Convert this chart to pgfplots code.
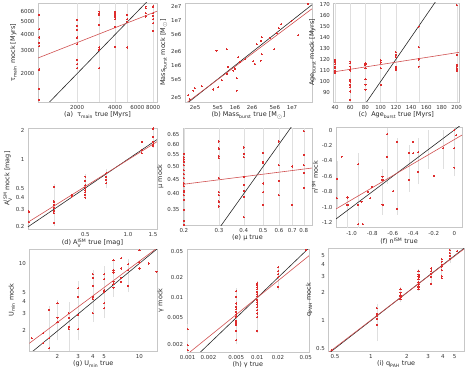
\documentclass[border=0pt]{standalone}
\usepackage{fontspec}
\setmainfont{DejaVu Sans}
\usepackage{pgfplots}
\pgfplotsset{compat=1.18}
\definecolor{fitred}{RGB}{208,80,80}
\definecolor{ptred}{RGB}{222,45,45}
\pgfplotsset{
 panel/.style={scale only axis, anchor=south west, axis line style={black!22},
  major tick length=0pt, minor tick length=0pt, tick style={draw=none},
  tick label style={font=\fontsize{5.5}{6}\selectfont, text=black!80},
  label style={font=\fontsize{6.5}{7.5}\selectfont, text=black!85},
  xlabel style={yshift=4.5pt}, ylabel style={yshift=-3pt},
  /pgf/number format/assume math mode=true, clip=true},
 pts/.style={color=ptred, only marks, mark=*, mark size=0.6pt, mark options={fill=ptred, draw=ptred, line width=0pt}},
 err/.style={draw=gray!25, line width=0.35pt, forget plot},
 one/.style={draw=black!85, line width=0.6pt, no marks},
 fit/.style={draw=fitred, line width=0.6pt, no marks},
}
\newcommand{\vl}[3]{\addplot[err] coordinates {(#1,#2) (#1,#3)};}
\begin{document}
\begin{tikzpicture}
\useasboundingbox (0,0) rectangle (474bp,369bp);
% (a)
\begin{axis}[panel, at={(38bp,267bp)}, width=119bp, height=99bp, xmode=log, ymode=log,
 xmin=980, xmax=8600, ymin=1210, ymax=7000,
 xtick={2000,4000,6000,8000}, xticklabels={2000,4000,6000,8000},
 ytick={2000,3000,4000,5000,6000}, yticklabels={2000,3000,4000,5000,6000},
 xlabel={(a)\ \ τ\textsubscript{main} true [Myrs]}, ylabel={τ\textsubscript{main} mock [Myrs]}]
\vl{2000}{1210}{7000}\vl{3000}{1210}{7000}\vl{4000}{1210}{7000}\vl{5000}{1210}{7000}\vl{8000}{1210}{7000}
\addplot[pts] coordinates {
(1000,5660)(1000,4400)(1000,3800)(1000,3450)(1000,3250)(1000,2150)(1000,1530)(1000,1260)
(2000,5180)(2000,4660)(2000,4340)(2000,3790)(2000,3380)(2000,2560)(2000,2370)(2000,2210)
(3000,6000)(3000,5830)(3000,5660)(3000,4740)(3000,3180)(3000,3050)(3000,2210)
(4000,6000)(4000,5830)(4000,5660)(4000,5500)(4000,5250)(4000,4600)(4000,3230)
(5000,5660)(5000,5250)(5000,5030)(5000,3180)
(7000,6560)(7000,6370)(7000,5830)(7000,5500)
(8000,6630)(8000,6490)(8000,5830)(8000,5560)(8000,5250)(8000,4890)(8000,4270)};
\addplot[one] coordinates {(980,980)(8600,8600)};
\addplot[fit] coordinates {(980,2640)(8600,6050)};
\end{axis}
% (b)
\begin{axis}[panel, at={(185bp,267bp)}, width=127bp, height=99bp, xmode=log, ymode=log,
 xmin=1.33e5, xmax=2.24e7, ymin=1.55e5, ymax=2.45e7,
 xtick={2e5,5e5,1e6,2e6,5e6,1e7}, xticklabels={2e5,5e5,1e6,2e6,5e6,1e7},
 ytick={2e5,5e5,1e6,2e6,5e6,1e7,2e7}, yticklabels={2e5,5e5,1e6,2e6,5e6,1e7,2e7},
 xlabel={(b) Mass\textsubscript{burst} true [M$_\odot$]}, ylabel={Mass\textsubscript{burst} mock [M$_\odot$]}]
\addplot[pts] coordinates {
(1.88e7,2.33e7)(1.29e7,4.76e6)(9.86e6,9.9e6)(6.41e6,8.2e6)(5.9e6,6.7e6)(5.38e6,5.19e6)
(4.11e6,4.02e6)(4.9e6,2.29e6)(2.94e6,4.22e6)(2.86e6,3.56e6)(2.4e6,2.95e6)(2.94e6,1.77e6)
(2.82e6,1.28e6)(2.24e6,1.08e6)(2.1e6,1.26e6)(1.5e6,1.37e6)(1.22e6,1.22e6)(1.14e6,1.52e6)
(1.0e6,8.6e5)(9.35e5,7.7e5)(7.15e5,2.29e6)(4.76e5,2.14e6)(7.65e5,9.4e5)(7.15e5,6.5e5)
(5.84e5,4.77e5)(1.07e6,5.19e5)(1.07e6,2.76e5)(5.1e5,3.27e5)(4.17e5,2.95e5)(2.6e5,3.5e5)
(1.99e5,3.11e5)(1.86e5,2.76e5)(1.62e5,1.77e5)(1.52e5,2.21e5)};
\addplot[one] coordinates {(1.33e5,1.33e5)(2.24e7,2.24e7)};
\addplot[fit] coordinates {(1.33e5,1.4e5)(2.24e7,1.82e7)};
\end{axis}
% (c)
\begin{axis}[panel, at={(333.5bp,267bp)}, width=125.5bp, height=99bp,
 xmin=38, xmax=203, ymin=81.5, ymax=171,
 xtick={40,60,80,100,120,140,160,180,200}, xticklabels={40,60,80,100,120,140,160,180,200},
 ytick={90,100,110,120,130,140,150,160,170}, yticklabels={90,100,110,120,130,140,150,160,170},
 xlabel={(c)\ \ Age\textsubscript{burst} true [Myrs]}, ylabel={Age\textsubscript{burst} mock [Myrs]}]
\vl{40}{81.5}{171}\vl{60}{81.5}{171}\vl{80}{81.5}{171}\vl{100}{81.5}{171}\vl{120}{81.5}{171}\vl{150}{81.5}{171}\vl{200}{81.5}{171}
\addplot[pts] coordinates {
(40,119.5)(40,118)(40,115.6)(40,113.5)(40,112)(40,109.6)(40,108)
(60,118)(60,116.5)(60,113.5)(60,111)(60,110)(60,101.5)(60,100)(60,97)(60,95)(60,91)(60,83.4)
(80,116.5)(80,115)(80,112)(80,102)(80,97)(80,92.5)
(100,119)(100,117)(100,112)(100,97)
(120,126.4)(120,124)(120,122)(120,113.5)(120,112)(120,110.5)
(150,149.6)(150,131)(150,120)(150,113.5)
(200,169)(200,124)(200,115)(200,113.5)(200,111.4)(200,109.6)};
\addplot[one] coordinates {(38,38)(203,203)};
\addplot[fit] coordinates {(38,108.7)(203,126.4)};
\end{axis}
% (d)
\begin{axis}[panel, at={(28bp,140bp)}, width=129bp, height=101bp, xmode=log, ymode=log,
 xmin=0.197, xmax=1.6, ymin=0.187, ymax=2.11,
 xtick={0.5,1,1.5}, xticklabels={0.5,1.0,1.5},
 ytick={0.2,0.3,0.4,0.5,1,2}, yticklabels={0.2,0.3,0.4,0.5,1,2},
 xlabel={(d) A$_{\mathrm{V}}^{\mathrm{ISM}}$ true [mag]}, ylabel={A$_{\mathrm{V}}^{\mathrm{ISM}}$ mock [mag]}]
\vl{0.3}{0.2}{0.55}\vl{0.5}{0.38}{0.7}\vl{0.7}{0.5}{0.78}\vl{1.5}{1.3}{2.11}
\addplot[pts] coordinates {
(0.2,0.284)(0.2,0.22)
(0.3,0.516)(0.3,0.366)(0.3,0.355)(0.3,0.333)(0.3,0.312)(0.3,0.289)(0.3,0.273)(0.3,0.218)
(0.4,0.423)(0.4,0.406)
(0.5,0.656)(0.5,0.592)(0.5,0.537)(0.5,0.504)(0.5,0.476)(0.5,0.451)(0.5,0.423)(0.5,0.397)
(0.7,0.71)(0.7,0.656)(0.7,0.606)(0.7,0.559)
(1.25,1.51)(1.25,1.24)(1.25,1.15)
(1.5,2.08)(1.5,1.71)(1.5,1.51)(1.5,1.42)(1.5,1.38)};
\addplot[one] coordinates {(0.197,0.197)(1.6,1.6)};
\addplot[fit] coordinates {(0.197,0.22)(1.6,1.52)};
\end{axis}
% (e)
\begin{axis}[panel, at={(183bp,144bp)}, width=129bp, height=97bp, xmode=log, ymode=log,
 xmin=0.198, xmax=0.88, ymin=0.309, ymax=0.687,
 xtick={0.2,0.3,0.4,0.5,0.6,0.7,0.8}, xticklabels={0.2,0.3,0.4,0.5,0.6,0.7,0.8},
 ytick={0.35,0.40,0.45,0.50,0.55,0.60,0.65}, yticklabels={0.35,0.40,0.45,0.50,0.55,0.60,0.65},
 xlabel={(e) μ true}, ylabel={μ mock}]
\vl{0.2}{0.309}{0.687}\vl{0.3}{0.309}{0.687}\vl{0.4}{0.309}{0.687}\vl{0.5}{0.309}{0.687}\vl{0.6}{0.309}{0.687}\vl{0.7}{0.309}{0.687}\vl{0.8}{0.309}{0.687}
\addplot[pts] coordinates {
(0.2,0.555)(0.2,0.54)(0.2,0.53)(0.2,0.52)(0.2,0.505)(0.2,0.485)(0.2,0.47)(0.2,0.455)(0.2,0.435)
(0.2,0.425)(0.2,0.41)(0.2,0.405)(0.2,0.395)(0.2,0.38)(0.2,0.35)(0.2,0.32)(0.2,0.31)
(0.3,0.615)(0.3,0.58)(0.3,0.545)(0.3,0.535)(0.3,0.455)(0.3,0.405)(0.3,0.395)(0.3,0.375)(0.3,0.36)
(0.4,0.585)(0.4,0.555)(0.4,0.54)(0.4,0.46)(0.4,0.43)(0.4,0.41)(0.4,0.39)(0.4,0.33)
(0.5,0.56)(0.5,0.52)(0.5,0.515)(0.5,0.435)(0.5,0.405)(0.5,0.365)
(0.6,0.615)(0.6,0.505)(0.6,0.445)(0.6,0.395)
(0.7,0.5)(0.7,0.365)
(0.8,0.67)(0.8,0.55)(0.8,0.505)(0.8,0.475)(0.8,0.42)};
\addplot[one] coordinates {(0.198,0.198)(0.88,0.88)};
\addplot[fit] coordinates {(0.198,0.432)(0.88,0.494)};
\end{axis}
% (f)
\begin{axis}[panel, at={(336bp,141.3bp)}, width=126bp, height=101bp,
 xmin=-1.152, xmax=0.075, ymin=-1.265, ymax=0.043,
 xtick={-1,-0.8,-0.6,-0.4,-0.2,0}, xticklabels={-1.0,-0.8,-0.6,-0.4,-0.2,0},
 ytick={-1.2,-1,-0.8,-0.6,-0.4,-0.2,0}, yticklabels={-1.2,-1.0,-0.8,-0.6,-0.4,-0.2,0},
 xlabel={(f) n$^{\mathrm{ISM}}$ true}, ylabel={n$^{\mathrm{ISM}}$ mock}]
\vl{-1.145}{-1.0}{-0.4}\vl{-1.04}{-1.265}{-0.85}\vl{-0.936}{-1.265}{-0.3}\vl{-0.7}{-1.1}{-0.5}
\vl{-0.654}{-0.7}{0.03}\vl{-0.557}{-1.1}{-0.1}\vl{-0.44}{-0.8}{-0.2}\vl{-0.353}{-0.7}{-0.1}
\vl{-0.25}{-0.5}{0}\vl{-0.11}{-0.5}{0}\vl{0}{-0.6}{0.04}
\addplot[pts] coordinates {
(-1.145,-0.634)(-1.145,-0.884)(-1.097,-0.345)(-1.04,-0.875)(-1.04,-0.97)(-0.936,-0.444)
(-0.936,-0.97)(-0.936,-1.22)(-0.903,-0.927)(-0.89,-1.22)(-0.839,-0.798)(-0.82,-0.884)
(-0.80,-0.733)(-0.699,-0.604)(-0.699,-0.97)(-0.699,-0.647)(-0.654,-0.052)(-0.654,-0.345)
(-0.596,-0.79)(-0.557,-0.151)(-0.557,-1.022)(-0.44,-0.293)(-0.44,-0.647)(-0.402,-0.302)
(-0.402,-0.151)(-0.353,-0.289)(-0.353,-0.539)(-0.2,-0.591)(-0.11,-0.237)(0,0)(0,-0.237)
(0,-0.488)(0.02,-0.065)};
\addplot[one] coordinates {(-1.152,-1.152)(0.075,0.075)};
\addplot[fit] coordinates {(-1.152,-1.022)(0.075,-0.065)};
\end{axis}
% (g)
\begin{axis}[panel, at={(29.3bp,18bp)}, width=128bp, height=102bp, xmode=log, ymode=log,
 xmin=1.15, xmax=14.2, ymin=1.24, ymax=14.1,
 xtick={2,3,4,5,10}, xticklabels={2,3,4,5,10},
 ytick={2,3,4,5,10}, yticklabels={2,3,4,5,10},
 xlabel={(g) U$_{\mathrm{min}}$ true}, ylabel={U$_{\mathrm{min}}$ mock}]
\vl{1.7}{1.24}{3.6}\vl{2}{1.6}{4.2}\vl{2.5}{1.24}{4.0}\vl{3}{1.6}{6.5}\vl{4}{2.5}{8.5}\vl{5}{2.7}{9.5}\vl{6}{4.5}{11}\vl{8}{5}{11}
\addplot[pts] coordinates {
(1.21,1.68)(1.51,1.89)(1.51,1.49)(1.7,3.3)(1.7,1.68)(1.7,1.32)
(2,3.86)(2,2.74)(2,2.46)(2.5,3.04)(2.5,2.74)(2.5,2.21)(2.5,2.08)
(3,5.52)(3,4.52)(3,2.93)(3,2.09)
(4,7.7)(4,7.1)(4,5.87)(4,4.52)(4,4.28)(4,3.04)
(5,7.7)(5,6.89)(5,5.3)(5,5.1)(5,3.86)(5,3.43)
(6,10.8)(6,8.53)(6,8.07)(6,6.46)(6,6.07)(6,5.6)
(7,11.3)(7,8.87)(7,7.1)(7,6.46)
(8,9.77)(8,8.53)(8,5.87)
(10,13.7)(10,10.2)(10,8.87)(12,10)(14,8.19)};
\addplot[one] coordinates {(1.15,1.15)(14.2,14.2)};
\addplot[fit] coordinates {(1.15,1.49)(14.2,14.5)};
\end{axis}
% (h)
\begin{axis}[panel, at={(186.7bp,17.3bp)}, width=122.3bp, height=102.7bp, xmode=log, ymode=log,
 xmin=0.00097, xmax=0.0557, ymin=0.00155, ymax=0.0536,
 xtick={0.001,0.002,0.005,0.01,0.02,0.05}, xticklabels={0.001,0.002,0.005,0.01,0.02,0.05},
 ytick={0.002,0.005,0.01,0.02,0.05}, yticklabels={0.002,0.005,0.01,0.02,0.05},
 xlabel={(h) γ true}, ylabel={γ mock}]
\vl{0.001}{0.00155}{0.004}\vl{0.005}{0.002}{0.014}\vl{0.01}{0.003}{0.018}\vl{0.02}{0.013}{0.03}
\addplot[pts] coordinates {
(0.001,0.00335)(0.001,0.00195)(0.001,0.00164)
(0.005,0.01256)(0.005,0.0103)(0.005,0.0082)(0.005,0.0073)(0.005,0.0067)(0.005,0.00615)
(0.005,0.0056)(0.005,0.00518)(0.005,0.0045)(0.005,0.0042)(0.005,0.0039)(0.005,0.0032)(0.005,0.0023)
(0.01,0.0164)(0.01,0.0155)(0.01,0.0143)(0.01,0.0133)(0.01,0.0123)(0.01,0.0113)(0.01,0.0105)
(0.01,0.0093)(0.01,0.0086)(0.01,0.0079)(0.01,0.0072)(0.01,0.0065)(0.01,0.0058)(0.01,0.0051)(0.01,0.0032)
(0.02,0.0285)(0.02,0.025)(0.02,0.0225)(0.02,0.0203)(0.02,0.0146)
(0.05,0.052)};
\addplot[one] coordinates {(0.00097,0.00097)(0.0557,0.0557)};
\addplot[fit] coordinates {(0.00097,0.0014)(0.0557,0.0425)};
\end{axis}
% (i)
\begin{axis}[panel, at={(328.3bp,18bp)}, width=135.7bp, height=102.7bp, xmode=log, ymode=log,
 xmin=0.44, xmax=6.0, ymin=0.47, ymax=6.0,
 xtick={0.5,1,2,3,4,5}, xticklabels={0.5,1,2,3,4,5},
 ytick={0.5,1,2,3,4,5}, yticklabels={0.5,1,2,3,4,5},
 xlabel={(i) q$_{\mathrm{PAH}}$ true}, ylabel={q$_{\mathrm{PAH}}$ mock}]
\vl{1.12}{0.6}{1.5}\vl{1.77}{1.6}{2.3}\vl{2.5}{2.1}{3.6}\vl{3.19}{2.4}{3.8}\vl{3.9}{2.8}{4.7}\vl{4.58}{4.2}{5.9}
\addplot[pts] coordinates {
(0.47,0.48)
(1.12,1.36)(1.12,1.18)(1.12,1.11)(1.12,1.04)(1.12,0.9)
(1.77,2.17)(1.77,2.0)(1.77,1.87)(1.77,1.8)(1.77,1.69)
(2.5,3.4)(2.5,3.1)(2.5,2.95)(2.5,2.8)(2.5,2.6)(2.5,2.45)(2.5,2.3)(2.5,2.17)
(3.19,3.63)(3.19,3.4)(3.19,3.2)(3.19,2.95)(3.19,2.5)
(3.9,4.58)(3.9,4.3)(3.9,4.0)(3.9,3.8)(3.9,3.5)(3.9,3.0)(3.9,2.85)
(4.58,5.73)(4.58,5.3)(4.58,5.0)(4.58,4.6)(5.26,5.6)};
\addplot[one] coordinates {(0.44,0.44)(6,6)};
\addplot[fit] coordinates {(0.44,0.45)(6,5.9)};
\end{axis}
\end{tikzpicture}
\end{document}
